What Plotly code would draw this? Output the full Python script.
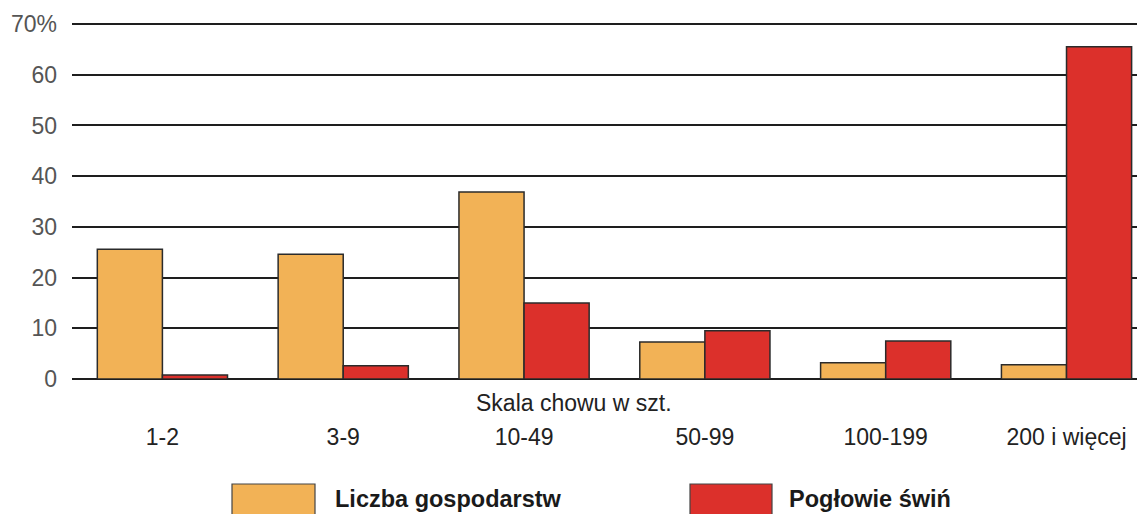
import plotly.graph_objects as go

categories = ["1-2", "3-9", "10-49", "50-99", "100-199", "200 i więcej"]
gospodarstwa = [25.6, 24.6, 36.9, 7.3, 3.2, 2.8]
poglowie = [0.8, 2.6, 15.0, 9.5, 7.5, 65.5]
series_names = ["Liczba gospodarstw", "Pogłowie świń"]
colors = ["#F2B256", "#DC302B"]
y_ticks = [0, 10, 20, 30, 40, 50, 60, 70]
y_ticktext = ["0", "10", "20", "30", "40", "50", "60", "70%"]

FONT = "Liberation Sans, Arial, sans-serif"

# page offset of the figure (body margin)
OFF = 8
Y_MAX = 70.4
PL, PR, PB = 72, 1145, 379           # plot area in page pixels
PX_PER_UNIT = (379 - 24) / 70        # 70 -> page y 24
PT = PB - Y_MAX * PX_PER_UNIT        # plot top in page pixels


def px(x):
    return (x - PL) / (PR - PL)


def py(y):
    return (PB - y) / (PB - PT)


fig = go.Figure()
for name, vals, col in zip(series_names, [gospodarstwa, poglowie], colors):
    fig.add_trace(go.Bar(
        x=categories, y=vals, name=name,
        marker=dict(color=col, line=dict(color="#2b2b2b", width=1.5)),
        showlegend=False,
    ))

fig.update_layout(
    width=1145, height=514,
    margin=dict(l=PL - OFF, r=1145 - PR + OFF, t=PT - OFF, b=514 - (PB - OFF)),
    paper_bgcolor="white", plot_bgcolor="white",
    barmode="group", bargap=0.28, bargroupgap=0,
    font=dict(family=FONT, color="#222"),
    xaxis=dict(
        range=[-0.5, 5.434], showgrid=False, showline=False, zeroline=False,
        automargin=False,
        ticks="outside", ticklen=37, tickcolor="rgba(0,0,0,0)",
        tickfont=dict(size=23, color="#222", family=FONT),
    ),
    yaxis=dict(
        range=[0, Y_MAX], tickvals=y_ticks, ticktext=y_ticktext,
        automargin=False,
        showgrid=True, gridcolor="#1e1e1e", gridwidth=2,
        zeroline=True, zerolinecolor="#1e1e1e", zerolinewidth=2,
        showline=False, ticks="", ticklabelstandoff=14,
        tickfont=dict(size=23, color="#555", family=FONT),
    ),
)

fig.add_annotation(
    text="Skala chowu w szt.", xref="paper", yref="paper",
    x=px(574), y=py(403), xanchor="center", yanchor="middle",
    showarrow=False, font=dict(size=23, color="#222", family=FONT),
)

# legend swatches and labels
legend_items = [(232, 315, 333), (690, 772, 787)]
for (x0, x1, tx), name, col in zip(legend_items, series_names, colors):
    fig.add_shape(
        type="rect", xref="paper", yref="paper",
        x0=px(x0), x1=px(x1), y0=py(530), y1=py(484),
        fillcolor=col, line=dict(color="#444", width=1.2),
    )
    fig.add_annotation(
        text="<b>" + name + "</b>", xref="paper", yref="paper",
        x=px(tx), y=py(499), xanchor="left", yanchor="middle",
        showarrow=False, font=dict(size=23.5, color="#1a1a1a", family=FONT),
    )

fig.write_html("out.html")
